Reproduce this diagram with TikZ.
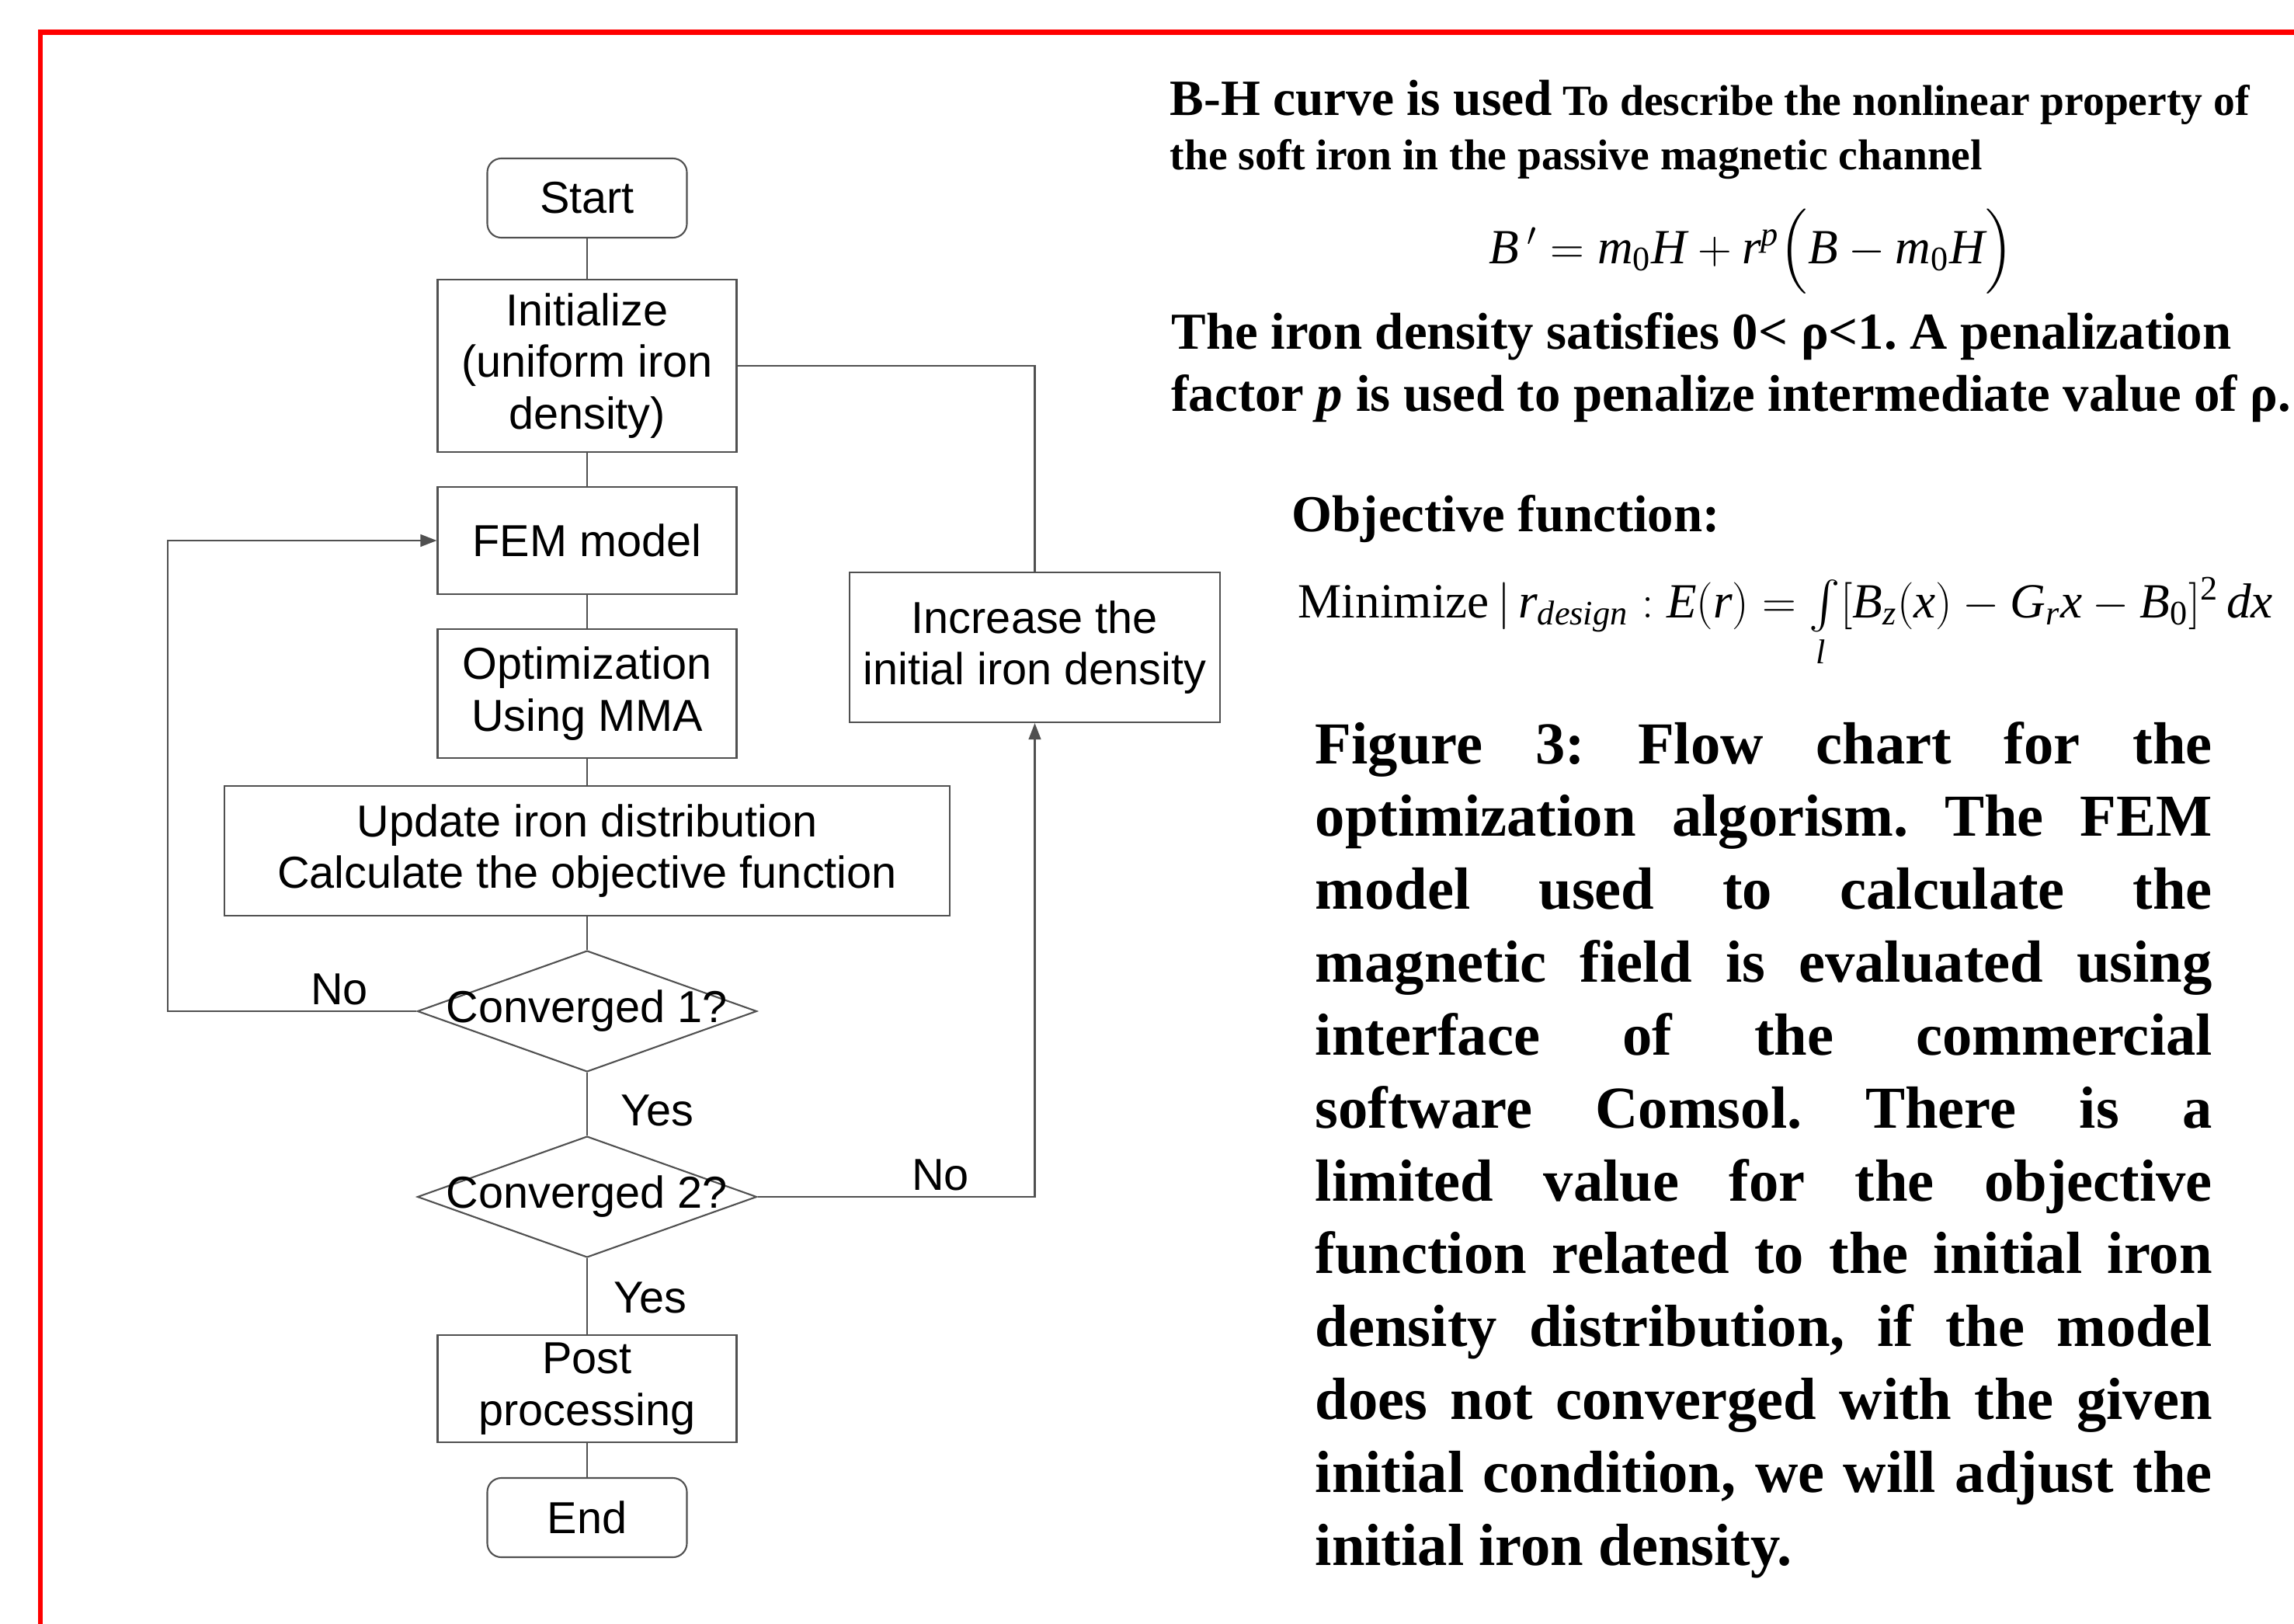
\documentclass[tikz,border=0pt]{standalone}
\usepackage{fontspec}
\usepackage{amsmath}
\setmainfont{Liberation Serif}
\newfontfamily\flowsans{Liberation Sans}
\usepackage{tikz}
\usetikzlibrary{shapes.geometric, arrows.meta, positioning}
\definecolor{edgegray}{RGB}{80, 80, 80}
\definecolor{frameRed}{RGB}{255, 0, 0}
\newcommand{\mvar}[1]{\textit{#1}}
\frenchspacing

\begin{document}
\begin{tikzpicture}[
    box/.style={rectangle, draw=edgegray, line width=0.6pt, align=center, inner sep=0pt, font=\flowsans\fontsize{16.4}{19}\selectfont},
    proc/.style={box, minimum width=3.85cm},
    term/.style={box, rounded corners=0.18cm, minimum width=2.57cm, minimum height=1.02cm},
    decision/.style={diamond, draw=edgegray, line width=0.6pt, inner sep=0pt, minimum width=4.37cm, minimum height=1.56cm},
    tag/.style={font=\flowsans\fontsize{16.4}{19}\selectfont, inner sep=2pt},
    flow/.style={draw=edgegray, line width=0.6pt},
    arrowflow/.style={flow, -{Triangle[length=6pt, width=4.5pt]}}
]
    \useasboundingbox (0,0) rectangle (29.54,-20.90);
    \draw[frameRed, line width=1.85pt] (0.52,-21.2) -- (0.52,-0.415) -- (29.8,-0.415);

    \node[term] (start) at (7.56,-2.55) {Start};
    \node[proc, minimum height=2.22cm] (init) at (7.56,-4.71) {Initialize\\(uniform iron\\density)};
    \node[proc, minimum height=1.38cm] (fem) at (7.56,-6.96) {FEM model};
    \node[proc, minimum height=1.66cm] (opt) at (7.56,-8.93) {Optimization\\Using MMA};
    \node[box, minimum width=9.34cm, minimum height=1.67cm] (update) at (7.56,-10.955) {Update iron distribution\\Calculate the objective function};
    \node[decision, label={[tag]center:Converged 1?}] (conv1) at (7.56,-13.02) {};
    \node[decision, label={[tag]center:Converged 2?}] (conv2) at (7.56,-15.41) {};
    \node[proc, minimum height=1.38cm] (post) at (7.56,-17.88) {Post\\processing};
    \node[term] (end) at (7.56,-19.54) {End};
    \node[box, minimum width=4.77cm, minimum height=1.93cm] (incr) at (13.325,-8.335) {Increase the\\initial iron density};
    \coordinate (loopL) at (2.16,-13.02);

    \draw[flow] (start) -- (init);
    \draw[flow] (init) -- (fem);
    \draw[flow] (fem) -- (opt);
    \draw[flow] (opt) -- (update);
    \draw[flow] (update) -- (conv1);
    \draw[flow] (conv1) -- node[tag, anchor=west, xshift=0.35cm, yshift=-0.08cm] {Yes} (conv2);
    \draw[flow] (conv2) -- node[tag, anchor=west, xshift=0.26cm, yshift=-0.02cm] {Yes} (post);
    \draw[flow] (post) -- (end);
    \draw[arrowflow] (conv1.west) -- node[tag, above, pos=0.31] {No} (loopL) |- (fem.west);
    \draw[flow] (init.east) -| (incr.north);
    \draw[arrowflow] (conv2.east) -| node[tag, above, pos=0.33] {No} (incr.south);

    \node[anchor=base west, inner sep=0pt] (bhtext) at (15.06,-1.49) {\parbox[t]{14.6cm}{\raggedright\bfseries\fontsize{15.8}{19.9}\selectfont{\fontsize{18.6}{19.9}\selectfont B-H curve is used} To describe the nonlinear property of\\the soft iron in the passive magnetic channel}};
    \node[anchor=base, inner sep=0pt] (bheq) at (22.55,-3.39) {\fontsize{18}{22}\selectfont $\mvar{B}\,' = \mvar{m}_{\textrm{0}}\mvar{H} + \mvar{r}^{\mvar{p}}\Bigl(\mvar{B} - \mvar{m}_{\textrm{0}}\mvar{H}\Bigr)$};
    \node[anchor=base west, inner sep=0pt] (rhotext) at (15.08,-4.49) {\parbox[t]{14.6cm}{\raggedright\bfseries\fontsize{19}{22.8}\selectfont The iron density satisfies 0<~ρ<1. A penalization\\factor \textit{p} is used to penalize intermediate value of ρ.}};
    \node[anchor=base west, inner sep=0pt] (objtitle) at (16.63,-6.84) {\bfseries\fontsize{19}{22}\selectfont Objective function:};
    \node[anchor=base west, inner sep=0pt] (objeq) at (16.71,-7.95) {\fontsize{18}{22}\selectfont Minimize\,$|\,\mvar{r}_{\mvar{design}}:\mvar{E}(\mvar{r}) = \int\limits_{\mvar{l}}[\mvar{B}_{\mvar{z}}(\mvar{x}) - \mvar{G}_{\mvar{r}}\mvar{x} - \mvar{B}_{\textrm{0}}]^{\textrm{2}}\,\mvar{dx}$};
    \node[anchor=base west, inner sep=0pt] (caption) at (16.93,-9.83) {\parbox[t]{11.55cm}{\bfseries\fontsize{21.8}{26.7}\selectfont\tolerance=10000\hyphenpenalty=10000\parindent=0pt
Figure 3: Flow chart for the\linebreak
optimization algorism. The FEM\linebreak
model used to calculate the\linebreak
magnetic field is evaluated using\linebreak
interface of the commercial\linebreak
software Comsol. There is a\linebreak
limited value for the objective\linebreak
function related to the initial iron\linebreak
density distribution, if the model\linebreak
does not converged with the given\linebreak
initial condition, we will adjust the\linebreak
initial iron density.}};
\end{tikzpicture}
\end{document}
